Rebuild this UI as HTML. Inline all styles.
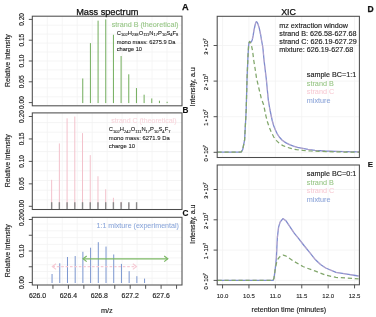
<!DOCTYPE html>
<html><head><meta charset="utf-8"><style>
html,body{margin:0;padding:0;background:#fff;}
svg{display:block;filter:blur(0.45px);}
text{font-family:"Liberation Sans", sans-serif;}
</style></head><body>
<svg width="376" height="317" viewBox="0 0 376 317">
<rect width="376" height="317" fill="#fff"/>
<line x1="47.27" y1="16.2" x2="47.27" y2="105.8" stroke="#f3f3f3" stroke-width="0.8"/>
<line x1="32.3" y1="25.16" x2="182.0" y2="25.16" stroke="#f3f3f3" stroke-width="0.8"/>
<line x1="62.24" y1="16.2" x2="62.24" y2="105.8" stroke="#f3f3f3" stroke-width="0.8"/>
<line x1="32.3" y1="34.12" x2="182.0" y2="34.12" stroke="#f3f3f3" stroke-width="0.8"/>
<line x1="77.21" y1="16.2" x2="77.21" y2="105.8" stroke="#f3f3f3" stroke-width="0.8"/>
<line x1="32.3" y1="43.08" x2="182.0" y2="43.08" stroke="#f3f3f3" stroke-width="0.8"/>
<line x1="92.18" y1="16.2" x2="92.18" y2="105.8" stroke="#f3f3f3" stroke-width="0.8"/>
<line x1="32.3" y1="52.04" x2="182.0" y2="52.04" stroke="#f3f3f3" stroke-width="0.8"/>
<line x1="107.15" y1="16.2" x2="107.15" y2="105.8" stroke="#f3f3f3" stroke-width="0.8"/>
<line x1="32.3" y1="61.00" x2="182.0" y2="61.00" stroke="#f3f3f3" stroke-width="0.8"/>
<line x1="122.12" y1="16.2" x2="122.12" y2="105.8" stroke="#f3f3f3" stroke-width="0.8"/>
<line x1="32.3" y1="69.96" x2="182.0" y2="69.96" stroke="#f3f3f3" stroke-width="0.8"/>
<line x1="137.09" y1="16.2" x2="137.09" y2="105.8" stroke="#f3f3f3" stroke-width="0.8"/>
<line x1="32.3" y1="78.92" x2="182.0" y2="78.92" stroke="#f3f3f3" stroke-width="0.8"/>
<line x1="152.06" y1="16.2" x2="152.06" y2="105.8" stroke="#f3f3f3" stroke-width="0.8"/>
<line x1="32.3" y1="87.88" x2="182.0" y2="87.88" stroke="#f3f3f3" stroke-width="0.8"/>
<line x1="167.03" y1="16.2" x2="167.03" y2="105.8" stroke="#f3f3f3" stroke-width="0.8"/>
<line x1="32.3" y1="96.84" x2="182.0" y2="96.84" stroke="#f3f3f3" stroke-width="0.8"/>
<line x1="47.27" y1="112.9" x2="47.27" y2="209.5" stroke="#f3f3f3" stroke-width="0.8"/>
<line x1="32.3" y1="122.56" x2="182.0" y2="122.56" stroke="#f3f3f3" stroke-width="0.8"/>
<line x1="62.24" y1="112.9" x2="62.24" y2="209.5" stroke="#f3f3f3" stroke-width="0.8"/>
<line x1="32.3" y1="132.22" x2="182.0" y2="132.22" stroke="#f3f3f3" stroke-width="0.8"/>
<line x1="77.21" y1="112.9" x2="77.21" y2="209.5" stroke="#f3f3f3" stroke-width="0.8"/>
<line x1="32.3" y1="141.88" x2="182.0" y2="141.88" stroke="#f3f3f3" stroke-width="0.8"/>
<line x1="92.18" y1="112.9" x2="92.18" y2="209.5" stroke="#f3f3f3" stroke-width="0.8"/>
<line x1="32.3" y1="151.54" x2="182.0" y2="151.54" stroke="#f3f3f3" stroke-width="0.8"/>
<line x1="107.15" y1="112.9" x2="107.15" y2="209.5" stroke="#f3f3f3" stroke-width="0.8"/>
<line x1="32.3" y1="161.20" x2="182.0" y2="161.20" stroke="#f3f3f3" stroke-width="0.8"/>
<line x1="122.12" y1="112.9" x2="122.12" y2="209.5" stroke="#f3f3f3" stroke-width="0.8"/>
<line x1="32.3" y1="170.86" x2="182.0" y2="170.86" stroke="#f3f3f3" stroke-width="0.8"/>
<line x1="137.09" y1="112.9" x2="137.09" y2="209.5" stroke="#f3f3f3" stroke-width="0.8"/>
<line x1="32.3" y1="180.52" x2="182.0" y2="180.52" stroke="#f3f3f3" stroke-width="0.8"/>
<line x1="152.06" y1="112.9" x2="152.06" y2="209.5" stroke="#f3f3f3" stroke-width="0.8"/>
<line x1="32.3" y1="190.18" x2="182.0" y2="190.18" stroke="#f3f3f3" stroke-width="0.8"/>
<line x1="167.03" y1="112.9" x2="167.03" y2="209.5" stroke="#f3f3f3" stroke-width="0.8"/>
<line x1="32.3" y1="199.84" x2="182.0" y2="199.84" stroke="#f3f3f3" stroke-width="0.8"/>
<line x1="47.27" y1="217.3" x2="47.27" y2="285.0" stroke="#f3f3f3" stroke-width="0.8"/>
<line x1="32.3" y1="224.07" x2="182.0" y2="224.07" stroke="#f3f3f3" stroke-width="0.8"/>
<line x1="62.24" y1="217.3" x2="62.24" y2="285.0" stroke="#f3f3f3" stroke-width="0.8"/>
<line x1="32.3" y1="230.84" x2="182.0" y2="230.84" stroke="#f3f3f3" stroke-width="0.8"/>
<line x1="77.21" y1="217.3" x2="77.21" y2="285.0" stroke="#f3f3f3" stroke-width="0.8"/>
<line x1="32.3" y1="237.61" x2="182.0" y2="237.61" stroke="#f3f3f3" stroke-width="0.8"/>
<line x1="92.18" y1="217.3" x2="92.18" y2="285.0" stroke="#f3f3f3" stroke-width="0.8"/>
<line x1="32.3" y1="244.38" x2="182.0" y2="244.38" stroke="#f3f3f3" stroke-width="0.8"/>
<line x1="107.15" y1="217.3" x2="107.15" y2="285.0" stroke="#f3f3f3" stroke-width="0.8"/>
<line x1="32.3" y1="251.15" x2="182.0" y2="251.15" stroke="#f3f3f3" stroke-width="0.8"/>
<line x1="122.12" y1="217.3" x2="122.12" y2="285.0" stroke="#f3f3f3" stroke-width="0.8"/>
<line x1="32.3" y1="257.92" x2="182.0" y2="257.92" stroke="#f3f3f3" stroke-width="0.8"/>
<line x1="137.09" y1="217.3" x2="137.09" y2="285.0" stroke="#f3f3f3" stroke-width="0.8"/>
<line x1="32.3" y1="264.69" x2="182.0" y2="264.69" stroke="#f3f3f3" stroke-width="0.8"/>
<line x1="152.06" y1="217.3" x2="152.06" y2="285.0" stroke="#f3f3f3" stroke-width="0.8"/>
<line x1="32.3" y1="271.46" x2="182.0" y2="271.46" stroke="#f3f3f3" stroke-width="0.8"/>
<line x1="167.03" y1="217.3" x2="167.03" y2="285.0" stroke="#f3f3f3" stroke-width="0.8"/>
<line x1="32.3" y1="278.23" x2="182.0" y2="278.23" stroke="#f3f3f3" stroke-width="0.8"/>
<line x1="222.55" y1="16.3" x2="222.55" y2="157.5" stroke="#f3f3f3" stroke-width="0.8"/>
<line x1="248.95" y1="16.3" x2="248.95" y2="157.5" stroke="#f3f3f3" stroke-width="0.8"/>
<line x1="275.35" y1="16.3" x2="275.35" y2="157.5" stroke="#f3f3f3" stroke-width="0.8"/>
<line x1="301.75" y1="16.3" x2="301.75" y2="157.5" stroke="#f3f3f3" stroke-width="0.8"/>
<line x1="328.15" y1="16.3" x2="328.15" y2="157.5" stroke="#f3f3f3" stroke-width="0.8"/>
<line x1="354.55" y1="16.3" x2="354.55" y2="157.5" stroke="#f3f3f3" stroke-width="0.8"/>
<line x1="217.2" y1="152.30" x2="359.4" y2="152.30" stroke="#f3f3f3" stroke-width="0.8"/>
<line x1="217.2" y1="116.70" x2="359.4" y2="116.70" stroke="#f3f3f3" stroke-width="0.8"/>
<line x1="217.2" y1="81.10" x2="359.4" y2="81.10" stroke="#f3f3f3" stroke-width="0.8"/>
<line x1="217.2" y1="45.50" x2="359.4" y2="45.50" stroke="#f3f3f3" stroke-width="0.8"/>
<line x1="222.55" y1="165.0" x2="222.55" y2="284.8" stroke="#f3f3f3" stroke-width="0.8"/>
<line x1="248.95" y1="165.0" x2="248.95" y2="284.8" stroke="#f3f3f3" stroke-width="0.8"/>
<line x1="275.35" y1="165.0" x2="275.35" y2="284.8" stroke="#f3f3f3" stroke-width="0.8"/>
<line x1="301.75" y1="165.0" x2="301.75" y2="284.8" stroke="#f3f3f3" stroke-width="0.8"/>
<line x1="328.15" y1="165.0" x2="328.15" y2="284.8" stroke="#f3f3f3" stroke-width="0.8"/>
<line x1="354.55" y1="165.0" x2="354.55" y2="284.8" stroke="#f3f3f3" stroke-width="0.8"/>
<line x1="217.2" y1="280.40" x2="359.4" y2="280.40" stroke="#f3f3f3" stroke-width="0.8"/>
<line x1="217.2" y1="250.10" x2="359.4" y2="250.10" stroke="#f3f3f3" stroke-width="0.8"/>
<line x1="217.2" y1="219.80" x2="359.4" y2="219.80" stroke="#f3f3f3" stroke-width="0.8"/>
<line x1="217.2" y1="189.50" x2="359.4" y2="189.50" stroke="#f3f3f3" stroke-width="0.8"/>
<line x1="82.75" y1="103.10" x2="82.75" y2="78.47" stroke="#72ad5c" stroke-width="1.0"/>
<line x1="90.42" y1="103.10" x2="90.42" y2="43.11" stroke="#72ad5c" stroke-width="1.0"/>
<line x1="98.09" y1="103.10" x2="98.09" y2="20.65" stroke="#72ad5c" stroke-width="1.0"/>
<line x1="105.76" y1="103.10" x2="105.76" y2="19.40" stroke="#72ad5c" stroke-width="1.0"/>
<line x1="113.43" y1="103.10" x2="113.43" y2="34.79" stroke="#72ad5c" stroke-width="1.0"/>
<line x1="121.10" y1="103.10" x2="121.10" y2="56.01" stroke="#72ad5c" stroke-width="1.0"/>
<line x1="128.77" y1="103.10" x2="128.77" y2="74.31" stroke="#72ad5c" stroke-width="1.0"/>
<line x1="136.44" y1="103.10" x2="136.44" y2="88.04" stroke="#72ad5c" stroke-width="1.0"/>
<line x1="144.11" y1="103.10" x2="144.11" y2="94.70" stroke="#72ad5c" stroke-width="1.0"/>
<line x1="151.78" y1="103.10" x2="151.78" y2="98.44" stroke="#72ad5c" stroke-width="1.0"/>
<line x1="159.45" y1="103.10" x2="159.45" y2="100.73" stroke="#72ad5c" stroke-width="1.0"/>
<line x1="167.12" y1="103.10" x2="167.12" y2="101.77" stroke="#72ad5c" stroke-width="1.0"/>
<line x1="51.65" y1="206.80" x2="51.65" y2="179.81" stroke="#f3c2cc" stroke-width="1.0"/>
<line x1="59.37" y1="206.80" x2="59.37" y2="143.44" stroke="#f3c2cc" stroke-width="1.0"/>
<line x1="67.09" y1="206.80" x2="67.09" y2="118.30" stroke="#f3c2cc" stroke-width="1.0"/>
<line x1="74.81" y1="206.80" x2="74.81" y2="116.50" stroke="#f3c2cc" stroke-width="1.0"/>
<line x1="82.53" y1="206.80" x2="82.53" y2="133.11" stroke="#f3c2cc" stroke-width="1.0"/>
<line x1="90.25" y1="206.80" x2="90.25" y2="155.11" stroke="#f3c2cc" stroke-width="1.0"/>
<line x1="97.97" y1="206.80" x2="97.97" y2="176.22" stroke="#f3c2cc" stroke-width="1.0"/>
<line x1="105.69" y1="206.80" x2="105.69" y2="189.24" stroke="#f3c2cc" stroke-width="1.0"/>
<line x1="113.41" y1="206.80" x2="113.41" y2="197.77" stroke="#f3c2cc" stroke-width="1.0"/>
<line x1="121.13" y1="206.80" x2="121.13" y2="201.81" stroke="#f3c2cc" stroke-width="1.0"/>
<line x1="128.85" y1="206.80" x2="128.85" y2="204.28" stroke="#f3c2cc" stroke-width="1.0"/>
<line x1="136.57" y1="206.80" x2="136.57" y2="205.40" stroke="#f3c2cc" stroke-width="1.0"/>
<line x1="51.65" y1="202.2" x2="51.65" y2="209.3" stroke="#8a8a8a" stroke-width="1.4"/>
<line x1="59.37" y1="202.2" x2="59.37" y2="209.3" stroke="#8a8a8a" stroke-width="1.4"/>
<line x1="67.09" y1="202.2" x2="67.09" y2="209.3" stroke="#8a8a8a" stroke-width="1.4"/>
<line x1="74.81" y1="202.2" x2="74.81" y2="209.3" stroke="#8a8a8a" stroke-width="1.4"/>
<line x1="82.53" y1="202.2" x2="82.53" y2="209.3" stroke="#8a8a8a" stroke-width="1.4"/>
<line x1="90.25" y1="202.2" x2="90.25" y2="209.3" stroke="#8a8a8a" stroke-width="1.4"/>
<line x1="97.97" y1="202.2" x2="97.97" y2="209.3" stroke="#8a8a8a" stroke-width="1.4"/>
<line x1="105.69" y1="202.2" x2="105.69" y2="209.3" stroke="#8a8a8a" stroke-width="1.4"/>
<line x1="113.41" y1="202.2" x2="113.41" y2="209.3" stroke="#8a8a8a" stroke-width="1.4"/>
<line x1="121.13" y1="202.2" x2="121.13" y2="209.3" stroke="#8a8a8a" stroke-width="1.4"/>
<line x1="128.85" y1="202.2" x2="128.85" y2="209.3" stroke="#8a8a8a" stroke-width="1.4"/>
<line x1="136.57" y1="202.2" x2="136.57" y2="209.3" stroke="#8a8a8a" stroke-width="1.4"/>
<line x1="52.05" y1="283.00" x2="52.05" y2="274.00" stroke="#7b96cf" stroke-width="1.0"/>
<line x1="59.76" y1="283.00" x2="59.76" y2="263.29" stroke="#7b96cf" stroke-width="1.0"/>
<line x1="67.47" y1="283.00" x2="67.47" y2="256.99" stroke="#7b96cf" stroke-width="1.0"/>
<line x1="75.18" y1="283.00" x2="75.18" y2="256.04" stroke="#7b96cf" stroke-width="1.0"/>
<line x1="82.89" y1="283.00" x2="82.89" y2="251.79" stroke="#7b96cf" stroke-width="1.0"/>
<line x1="90.60" y1="283.00" x2="90.60" y2="247.69" stroke="#7b96cf" stroke-width="1.0"/>
<line x1="98.31" y1="283.00" x2="98.31" y2="242.18" stroke="#7b96cf" stroke-width="1.0"/>
<line x1="106.02" y1="283.00" x2="106.02" y2="246.59" stroke="#7b96cf" stroke-width="1.0"/>
<line x1="113.73" y1="283.00" x2="113.73" y2="254.47" stroke="#7b96cf" stroke-width="1.0"/>
<line x1="121.44" y1="283.00" x2="121.44" y2="263.92" stroke="#7b96cf" stroke-width="1.0"/>
<line x1="129.15" y1="283.00" x2="129.15" y2="271.16" stroke="#7b96cf" stroke-width="1.0"/>
<line x1="136.86" y1="283.00" x2="136.86" y2="276.20" stroke="#7b96cf" stroke-width="1.0"/>
<line x1="144.57" y1="283.00" x2="144.57" y2="278.59" stroke="#7b96cf" stroke-width="1.0"/>
<line x1="52.40" y1="266.6" x2="136.40" y2="266.6" stroke="#f6cbd5" stroke-width="1.2" stroke-dasharray="2.6,1.8"/>
<polyline points="56.00,263.8 52.40,266.6 56.00,269.40000000000003" fill="none" stroke="#f6cbd5" stroke-width="1.2"/>
<polyline points="132.80,263.8 136.40,266.6 132.80,269.40000000000003" fill="none" stroke="#f6cbd5" stroke-width="1.2"/>
<line x1="83.10" y1="258.8" x2="167.80" y2="258.8" stroke="#7cb865" stroke-width="1.2"/>
<polyline points="86.70,256.0 83.10,258.8 86.70,261.6" fill="none" stroke="#7cb865" stroke-width="1.2"/>
<polyline points="164.20,256.0 167.80,258.8 164.20,261.6" fill="none" stroke="#7cb865" stroke-width="1.2"/>
<polyline points="217.50,152.20 240.00,152.20 241.30,151.80 242.70,149.60 244.60,140.00 246.20,110.00 247.00,80.00 247.90,58.00 248.60,46.00 249.00,43.00 249.60,41.50 250.20,41.80 250.80,42.30 251.40,41.80 252.20,40.00 253.10,35.90 254.00,30.20 255.00,25.50 255.70,22.80 256.40,21.70 257.10,22.30 257.80,23.60 259.30,28.30 260.70,35.00 261.60,40.60 262.60,46.00 263.10,50.00 264.00,60.00 266.30,79.00 268.30,100.00 269.90,109.50 272.20,120.50 273.70,125.70 275.40,130.00 277.20,133.80 279.30,137.00 282.20,140.20 285.60,142.60 289.50,144.60 293.50,146.20 297.50,147.30 301.40,148.10 308.00,149.40 315.00,150.30 325.00,151.00 335.00,151.40 345.00,151.60 359.00,151.90" fill="none" stroke="#7d8ccf" stroke-width="1.3" stroke-linejoin="round"/>
<polyline points="217.50,152.20 240.00,152.20 241.30,151.80 242.70,149.60 244.60,140.00 246.20,110.00 247.00,80.00 247.90,58.00 248.60,46.00 249.00,43.00 249.60,41.50 250.20,41.80 250.80,42.30 251.40,41.80 252.20,40.00 253.10,35.90 254.00,30.20 255.00,25.50 255.70,22.80 256.40,21.70 257.10,22.30 257.80,23.60 259.30,28.30 260.70,35.00 261.60,40.60 262.60,46.00 263.10,50.00 264.00,60.00 266.30,79.00 268.30,100.00 269.90,109.50 272.20,120.50 273.70,125.70 275.40,130.00 277.20,133.80 279.30,137.00 282.20,140.20 285.60,142.60 289.50,144.60 293.50,146.20 297.50,147.30 301.40,148.10 308.00,149.40 315.00,150.30 325.00,151.00 335.00,151.40 345.00,151.60 359.00,151.90" fill="none" stroke="#f0b8c8" stroke-width="1.1" stroke-dasharray="4,3" stroke-linejoin="round" opacity="0.45"/>
<polyline points="217.50,152.20 240.00,152.20 241.30,151.80 242.70,149.60 244.60,140.00 246.20,110.00 247.00,80.00 247.90,58.00 248.60,46.00 249.00,43.00 249.60,41.50 250.40,42.60 251.50,45.60 252.60,51.00 253.70,60.00 255.00,68.00 256.50,78.00 258.80,88.00 261.20,98.00 263.60,104.70 265.90,115.80 267.40,121.80 269.10,126.80 271.30,132.30 273.80,137.00 276.50,140.60 279.30,143.40 283.00,145.60 287.20,147.30 291.80,148.70 296.60,149.70 303.00,150.40 311.00,151.00 320.00,151.40 328.00,151.60 341.50,152.00 359.00,152.20" fill="none" stroke="#80a66a" stroke-width="1.25" stroke-dasharray="4.2,2.8" stroke-linejoin="round"/>
<polyline points="217.50,280.40 273.10,280.40 274.00,278.00 275.10,270.20 276.40,257.60 277.00,245.00 277.40,237.20 278.60,227.10 280.10,222.10 282.90,218.60 286.20,221.10 290.20,227.10 294.20,233.20 298.30,238.20 304.00,245.50 310.00,252.80 315.50,259.80 320.50,264.50 325.70,268.00 336.00,272.40 347.00,274.10 358.60,276.00" fill="none" stroke="#7d8ccf" stroke-width="1.3" stroke-linejoin="round"/>
<polyline points="217.50,280.40 273.10,280.40 274.00,278.00 275.10,270.20 276.40,257.60 277.00,245.00 277.40,237.20 278.60,227.10 280.10,222.10 282.90,218.60 286.20,221.10 290.20,227.10 294.20,233.20 298.30,238.20 304.00,245.50 310.00,252.80 315.50,259.80 320.50,264.50 325.70,268.00 336.00,272.40 347.00,274.10 358.60,276.00" fill="none" stroke="#f0b8c8" stroke-width="1.1" stroke-dasharray="4,3" stroke-linejoin="round" opacity="0.45"/>
<polyline points="217.50,280.40 273.10,280.40 274.00,278.00 275.10,270.20 275.90,265.50 276.80,261.80 278.00,259.00 279.60,256.90 281.40,255.60 283.30,255.10 285.50,255.80 287.70,257.20 294.00,261.40 302.90,266.50 305.20,267.50 315.50,271.10 325.70,275.20 336.00,277.40 346.00,277.90 358.60,278.90" fill="none" stroke="#80a66a" stroke-width="1.25" stroke-dasharray="4.2,2.8" stroke-linejoin="round"/>
<rect x="32.3" y="16.2" width="149.70" height="89.60" fill="none" stroke="#4c4c4c" stroke-width="1.05"/>
<rect x="32.3" y="112.9" width="149.70" height="96.60" fill="none" stroke="#4c4c4c" stroke-width="1.05"/>
<rect x="32.3" y="217.3" width="149.70" height="67.70" fill="none" stroke="#4c4c4c" stroke-width="1.05"/>
<rect x="217.2" y="16.3" width="142.20" height="141.20" fill="none" stroke="#4c4c4c" stroke-width="1.05"/>
<rect x="217.2" y="165.0" width="142.20" height="119.80" fill="none" stroke="#4c4c4c" stroke-width="1.05"/>
<line x1="28.80" y1="102.60" x2="32.3" y2="102.60" stroke="#4c4c4c" stroke-width="0.95"/>
<line x1="28.80" y1="81.80" x2="32.3" y2="81.80" stroke="#4c4c4c" stroke-width="0.95"/>
<line x1="28.80" y1="61.00" x2="32.3" y2="61.00" stroke="#4c4c4c" stroke-width="0.95"/>
<line x1="28.80" y1="40.20" x2="32.3" y2="40.20" stroke="#4c4c4c" stroke-width="0.95"/>
<line x1="28.80" y1="19.40" x2="32.3" y2="19.40" stroke="#4c4c4c" stroke-width="0.95"/>
<text transform="translate(24.0,102.60) rotate(-90)" text-anchor="middle" font-size="6.6" fill="#222" stroke="#222" stroke-width="0.15">0.00</text>
<text transform="translate(24.0,81.80) rotate(-90)" text-anchor="middle" font-size="6.6" fill="#222" stroke="#222" stroke-width="0.15">0.05</text>
<text transform="translate(24.0,61.00) rotate(-90)" text-anchor="middle" font-size="6.6" fill="#222" stroke="#222" stroke-width="0.15">0.10</text>
<text transform="translate(24.0,40.20) rotate(-90)" text-anchor="middle" font-size="6.6" fill="#222" stroke="#222" stroke-width="0.15">0.15</text>
<text transform="translate(24.0,19.40) rotate(-90)" text-anchor="middle" font-size="6.6" fill="#222" stroke="#222" stroke-width="0.15">0.20</text>
<line x1="28.80" y1="206.30" x2="32.3" y2="206.30" stroke="#4c4c4c" stroke-width="0.95"/>
<line x1="28.80" y1="183.85" x2="32.3" y2="183.85" stroke="#4c4c4c" stroke-width="0.95"/>
<line x1="28.80" y1="161.40" x2="32.3" y2="161.40" stroke="#4c4c4c" stroke-width="0.95"/>
<line x1="28.80" y1="138.95" x2="32.3" y2="138.95" stroke="#4c4c4c" stroke-width="0.95"/>
<line x1="28.80" y1="116.50" x2="32.3" y2="116.50" stroke="#4c4c4c" stroke-width="0.95"/>
<text transform="translate(24.0,206.30) rotate(-90)" text-anchor="middle" font-size="6.6" fill="#222" stroke="#222" stroke-width="0.15">0.00</text>
<text transform="translate(24.0,183.85) rotate(-90)" text-anchor="middle" font-size="6.6" fill="#222" stroke="#222" stroke-width="0.15">0.05</text>
<text transform="translate(24.0,161.40) rotate(-90)" text-anchor="middle" font-size="6.6" fill="#222" stroke="#222" stroke-width="0.15">0.10</text>
<text transform="translate(24.0,138.95) rotate(-90)" text-anchor="middle" font-size="6.6" fill="#222" stroke="#222" stroke-width="0.15">0.15</text>
<text transform="translate(24.0,116.50) rotate(-90)" text-anchor="middle" font-size="6.6" fill="#222" stroke="#222" stroke-width="0.15">0.20</text>
<line x1="28.80" y1="282.50" x2="32.3" y2="282.50" stroke="#4c4c4c" stroke-width="0.95"/>
<line x1="28.80" y1="266.75" x2="32.3" y2="266.75" stroke="#4c4c4c" stroke-width="0.95"/>
<line x1="28.80" y1="251.00" x2="32.3" y2="251.00" stroke="#4c4c4c" stroke-width="0.95"/>
<line x1="28.80" y1="235.25" x2="32.3" y2="235.25" stroke="#4c4c4c" stroke-width="0.95"/>
<line x1="28.80" y1="219.50" x2="32.3" y2="219.50" stroke="#4c4c4c" stroke-width="0.95"/>
<text transform="translate(24.0,282.50) rotate(-90)" text-anchor="middle" font-size="6.6" fill="#222" stroke="#222" stroke-width="0.15">0.00</text>
<text transform="translate(24.0,251.00) rotate(-90)" text-anchor="middle" font-size="6.6" fill="#222" stroke="#222" stroke-width="0.15">0.10</text>
<text transform="translate(24.0,219.50) rotate(-90)" text-anchor="middle" font-size="6.6" fill="#222" stroke="#222" stroke-width="0.15">0.20</text>
<text transform="translate(10.1,60.60) rotate(-90)" text-anchor="middle" font-size="7.0" fill="#222" stroke="#222" stroke-width="0.15">Relative intensity</text>
<text transform="translate(10.1,160.80) rotate(-90)" text-anchor="middle" font-size="7.0" fill="#222" stroke="#222" stroke-width="0.15">Relative intensity</text>
<text transform="translate(10.1,250.75) rotate(-90)" text-anchor="middle" font-size="7.0" fill="#222" stroke="#222" stroke-width="0.15">Relative intensity</text>
<line x1="37.50" y1="285" x2="37.50" y2="288.8" stroke="#4c4c4c" stroke-width="0.95"/>
<line x1="52.95" y1="285" x2="52.95" y2="288.8" stroke="#4c4c4c" stroke-width="0.95"/>
<line x1="68.40" y1="285" x2="68.40" y2="288.8" stroke="#4c4c4c" stroke-width="0.95"/>
<line x1="83.85" y1="285" x2="83.85" y2="288.8" stroke="#4c4c4c" stroke-width="0.95"/>
<line x1="99.30" y1="285" x2="99.30" y2="288.8" stroke="#4c4c4c" stroke-width="0.95"/>
<line x1="114.75" y1="285" x2="114.75" y2="288.8" stroke="#4c4c4c" stroke-width="0.95"/>
<line x1="130.20" y1="285" x2="130.20" y2="288.8" stroke="#4c4c4c" stroke-width="0.95"/>
<line x1="145.65" y1="285" x2="145.65" y2="288.8" stroke="#4c4c4c" stroke-width="0.95"/>
<line x1="161.10" y1="285" x2="161.10" y2="288.8" stroke="#4c4c4c" stroke-width="0.95"/>
<line x1="176.55" y1="285" x2="176.55" y2="288.8" stroke="#4c4c4c" stroke-width="0.95"/>
<text x="37.50" y="297.6" text-anchor="middle" font-size="6.9" fill="#222" stroke="#222" stroke-width="0.15">626.0</text>
<text x="68.40" y="297.6" text-anchor="middle" font-size="6.9" fill="#222" stroke="#222" stroke-width="0.15">626.4</text>
<text x="99.30" y="297.6" text-anchor="middle" font-size="6.9" fill="#222" stroke="#222" stroke-width="0.15">626.8</text>
<text x="130.20" y="297.6" text-anchor="middle" font-size="6.9" fill="#222" stroke="#222" stroke-width="0.15">627.2</text>
<text x="161.10" y="297.6" text-anchor="middle" font-size="6.9" fill="#222" stroke="#222" stroke-width="0.15">627.6</text>
<text x="106.8" y="312.6" text-anchor="middle" font-size="7.3" fill="#222" stroke="#222" stroke-width="0.15">m/z</text>
<line x1="222.55" y1="284.8" x2="222.55" y2="288.4" stroke="#4c4c4c" stroke-width="0.95"/>
<text x="222.55" y="298.4" text-anchor="middle" font-size="6.0" fill="#222" stroke="#222" stroke-width="0.1">10.0</text>
<line x1="248.95" y1="284.8" x2="248.95" y2="288.4" stroke="#4c4c4c" stroke-width="0.95"/>
<text x="248.95" y="298.4" text-anchor="middle" font-size="6.0" fill="#222" stroke="#222" stroke-width="0.1">10.5</text>
<line x1="275.35" y1="284.8" x2="275.35" y2="288.4" stroke="#4c4c4c" stroke-width="0.95"/>
<text x="275.35" y="298.4" text-anchor="middle" font-size="6.0" fill="#222" stroke="#222" stroke-width="0.1">11.0</text>
<line x1="301.75" y1="284.8" x2="301.75" y2="288.4" stroke="#4c4c4c" stroke-width="0.95"/>
<text x="301.75" y="298.4" text-anchor="middle" font-size="6.0" fill="#222" stroke="#222" stroke-width="0.1">11.5</text>
<line x1="328.15" y1="284.8" x2="328.15" y2="288.4" stroke="#4c4c4c" stroke-width="0.95"/>
<text x="328.15" y="298.4" text-anchor="middle" font-size="6.0" fill="#222" stroke="#222" stroke-width="0.1">12.0</text>
<line x1="354.55" y1="284.8" x2="354.55" y2="288.4" stroke="#4c4c4c" stroke-width="0.95"/>
<text x="354.55" y="298.4" text-anchor="middle" font-size="6.0" fill="#222" stroke="#222" stroke-width="0.1">12.5</text>
<text x="288.8" y="312.0" text-anchor="middle" font-size="7.1" fill="#222" stroke="#222" stroke-width="0.15">retention time (minutes)</text>
<line x1="213.60" y1="152.30" x2="217.2" y2="152.30" stroke="#4c4c4c" stroke-width="0.95"/>
<text transform="translate(208.3,153.20) rotate(-90)" text-anchor="middle" font-size="5.9" fill="#222" stroke="#222" stroke-width="0.16">0 • 10<tspan font-size="4.0" dy="-2.3">7</tspan></text>
<line x1="213.60" y1="116.70" x2="217.2" y2="116.70" stroke="#4c4c4c" stroke-width="0.95"/>
<text transform="translate(208.3,117.60) rotate(-90)" text-anchor="middle" font-size="5.9" fill="#222" stroke="#222" stroke-width="0.16">1 • 10<tspan font-size="4.0" dy="-2.3">7</tspan></text>
<line x1="213.60" y1="81.10" x2="217.2" y2="81.10" stroke="#4c4c4c" stroke-width="0.95"/>
<text transform="translate(208.3,82.00) rotate(-90)" text-anchor="middle" font-size="5.9" fill="#222" stroke="#222" stroke-width="0.16">2 • 10<tspan font-size="4.0" dy="-2.3">7</tspan></text>
<line x1="213.60" y1="45.50" x2="217.2" y2="45.50" stroke="#4c4c4c" stroke-width="0.95"/>
<text transform="translate(208.3,46.40) rotate(-90)" text-anchor="middle" font-size="5.9" fill="#222" stroke="#222" stroke-width="0.16">3 • 10<tspan font-size="4.0" dy="-2.3">7</tspan></text>
<text transform="translate(195.0,86.90) rotate(-90)" text-anchor="middle" font-size="7.0" fill="#222" stroke="#222" stroke-width="0.15">Intensity, a.u</text>
<line x1="213.60" y1="280.40" x2="217.2" y2="280.40" stroke="#4c4c4c" stroke-width="0.95"/>
<text transform="translate(208.3,281.30) rotate(-90)" text-anchor="middle" font-size="5.9" fill="#222" stroke="#222" stroke-width="0.16">0 • 10<tspan font-size="4.0" dy="-2.3">7</tspan></text>
<line x1="213.60" y1="250.10" x2="217.2" y2="250.10" stroke="#4c4c4c" stroke-width="0.95"/>
<text transform="translate(208.3,251.00) rotate(-90)" text-anchor="middle" font-size="5.9" fill="#222" stroke="#222" stroke-width="0.16">1 • 10<tspan font-size="4.0" dy="-2.3">7</tspan></text>
<line x1="213.60" y1="219.80" x2="217.2" y2="219.80" stroke="#4c4c4c" stroke-width="0.95"/>
<text transform="translate(208.3,220.70) rotate(-90)" text-anchor="middle" font-size="5.9" fill="#222" stroke="#222" stroke-width="0.16">2 • 10<tspan font-size="4.0" dy="-2.3">7</tspan></text>
<line x1="213.60" y1="189.50" x2="217.2" y2="189.50" stroke="#4c4c4c" stroke-width="0.95"/>
<text transform="translate(208.3,190.40) rotate(-90)" text-anchor="middle" font-size="5.9" fill="#222" stroke="#222" stroke-width="0.16">3 • 10<tspan font-size="4.0" dy="-2.3">7</tspan></text>
<text transform="translate(195.0,224.10) rotate(-90)" text-anchor="middle" font-size="7.0" fill="#222" stroke="#222" stroke-width="0.15">Intensity, a.u</text>
<text x="107.3" y="14.6" text-anchor="middle" font-size="9.2" fill="#111" stroke="#111" stroke-width="0.25">Mass spectrum</text>
<text x="288.6" y="14.7" text-anchor="middle" font-size="8.9" fill="#111" stroke="#111" stroke-width="0.25">XIC</text>
<text x="182.0" y="9.9" font-size="9.2" font-weight="bold" fill="#111" stroke="#111" stroke-width="0.25">A</text>
<text x="182.6" y="113.1" font-size="8.2" font-weight="bold" fill="#111" stroke="#111" stroke-width="0.15">B</text>
<text x="182.4" y="216.4" font-size="8.2" font-weight="bold" fill="#111" stroke="#111" stroke-width="0.15">C</text>
<text x="367.6" y="11.8" font-size="8.5" font-weight="bold" fill="#111" stroke="#111" stroke-width="0.25">D</text>
<text x="367.8" y="167.0" font-size="7.8" font-weight="bold" fill="#111" stroke="#111" stroke-width="0.15">E</text>
<text x="178.4" y="26.6" text-anchor="end" font-size="7.2" fill="#94c582" stroke="#94c582" stroke-width="0.06">strand B (theoretical)</text>
<text x="116.70" y="35.1" font-size="5.8" fill="#222" stroke="#222" stroke-width="0.1">C</text>
<text x="120.89" y="36.40" font-size="4.06" fill="#222" stroke="#222" stroke-width="0.1">102</text>
<text x="127.66" y="35.1" font-size="5.8" fill="#222" stroke="#222" stroke-width="0.1">H</text>
<text x="131.85" y="36.40" font-size="4.06" fill="#222" stroke="#222" stroke-width="0.1">238</text>
<text x="138.63" y="35.1" font-size="5.8" fill="#222" stroke="#222" stroke-width="0.1">O</text>
<text x="143.14" y="36.40" font-size="4.06" fill="#222" stroke="#222" stroke-width="0.1">111</text>
<text x="149.31" y="35.1" font-size="5.8" fill="#222" stroke="#222" stroke-width="0.1">N</text>
<text x="153.50" y="36.40" font-size="4.06" fill="#222" stroke="#222" stroke-width="0.1">17</text>
<text x="158.01" y="35.1" font-size="5.8" fill="#222" stroke="#222" stroke-width="0.1">P</text>
<text x="161.88" y="36.40" font-size="4.06" fill="#222" stroke="#222" stroke-width="0.1">10</text>
<text x="166.40" y="35.1" font-size="5.8" fill="#222" stroke="#222" stroke-width="0.1">S</text>
<text x="170.27" y="36.40" font-size="4.06" fill="#222" stroke="#222" stroke-width="0.1">4</text>
<text x="172.53" y="35.1" font-size="5.8" fill="#222" stroke="#222" stroke-width="0.1">F</text>
<text x="176.07" y="36.40" font-size="4.06" fill="#222" stroke="#222" stroke-width="0.1">8</text>
<text x="116.7" y="44.0" font-size="5.7" fill="#222" stroke="#222" stroke-width="0.1">mono mass: 6275.9 Da</text>
<text x="116.7" y="51.4" font-size="5.7" fill="#222" stroke="#222" stroke-width="0.1">charge 10</text>
<text x="176.5" y="123.1" text-anchor="end" font-size="7.0" fill="#f8d6dd" stroke="#f8d6dd" stroke-width="0.06">strand C (theoretical)</text>
<text x="108.80" y="131.3" font-size="5.8" fill="#222" stroke="#222" stroke-width="0.1">C</text>
<text x="112.99" y="132.60" font-size="4.06" fill="#222" stroke="#222" stroke-width="0.1">102</text>
<text x="119.76" y="131.3" font-size="5.8" fill="#222" stroke="#222" stroke-width="0.1">H</text>
<text x="123.95" y="132.60" font-size="4.06" fill="#222" stroke="#222" stroke-width="0.1">242</text>
<text x="130.73" y="131.3" font-size="5.8" fill="#222" stroke="#222" stroke-width="0.1">O</text>
<text x="135.24" y="132.60" font-size="4.06" fill="#222" stroke="#222" stroke-width="0.1">111</text>
<text x="141.41" y="131.3" font-size="5.8" fill="#222" stroke="#222" stroke-width="0.1">N</text>
<text x="145.60" y="132.60" font-size="4.06" fill="#222" stroke="#222" stroke-width="0.1">17</text>
<text x="150.11" y="131.3" font-size="5.8" fill="#222" stroke="#222" stroke-width="0.1">P</text>
<text x="153.98" y="132.60" font-size="4.06" fill="#222" stroke="#222" stroke-width="0.1">10</text>
<text x="158.50" y="131.3" font-size="5.8" fill="#222" stroke="#222" stroke-width="0.1">S</text>
<text x="162.37" y="132.60" font-size="4.06" fill="#222" stroke="#222" stroke-width="0.1">4</text>
<text x="164.63" y="131.3" font-size="5.8" fill="#222" stroke="#222" stroke-width="0.1">F</text>
<text x="168.17" y="132.60" font-size="4.06" fill="#222" stroke="#222" stroke-width="0.1">7</text>
<text x="108.8" y="140.3" font-size="5.9" fill="#222" stroke="#222" stroke-width="0.1">mono mass: 6271.9 Da</text>
<text x="108.8" y="147.7" font-size="5.9" fill="#222" stroke="#222" stroke-width="0.1">charge 10</text>
<text x="178.9" y="228.1" text-anchor="end" font-size="7.1" fill="#8aa6da" stroke="#8aa6da" stroke-width="0.06">1:1 mixture (experimental)</text>
<text x="279.3" y="28.00" font-size="7.2" fill="#222" stroke="#222" stroke-width="0.15">mz extraction window</text>
<text x="279.3" y="36.15" font-size="7.2" fill="#222" stroke="#222" stroke-width="0.15">strand B: 626.58-627.68</text>
<text x="279.3" y="44.30" font-size="7.2" fill="#222" stroke="#222" stroke-width="0.15">strand C: 626.19-627.29</text>
<text x="279.3" y="52.45" font-size="7.2" fill="#222" stroke="#222" stroke-width="0.15">mixture: 626.19-627.68</text>
<text x="306.8" y="77.3" font-size="7.2" fill="#222" stroke="#222" stroke-width="0.15">sample BC=1:1</text>
<text x="306.8" y="85.60" font-size="7.25" fill="#95c482" stroke="#95c482" stroke-width="0.06">strand B</text>
<text x="306.8" y="94.05" font-size="7.25" fill="#f7ccd5" stroke="#f7ccd5" stroke-width="0.06">strand C</text>
<text x="306.8" y="102.50" font-size="7.25" fill="#8aa3d8" stroke="#8aa3d8" stroke-width="0.06">mixture</text>
<text x="306.8" y="176.3" font-size="7.2" fill="#222" stroke="#222" stroke-width="0.15">sample BC=0:1</text>
<text x="306.8" y="184.60" font-size="7.25" fill="#95c482" stroke="#95c482" stroke-width="0.06">strand B</text>
<text x="306.8" y="193.05" font-size="7.25" fill="#f7ccd5" stroke="#f7ccd5" stroke-width="0.06">strand C</text>
<text x="306.8" y="201.50" font-size="7.25" fill="#8aa3d8" stroke="#8aa3d8" stroke-width="0.06">mixture</text>
</svg>
</body></html>
